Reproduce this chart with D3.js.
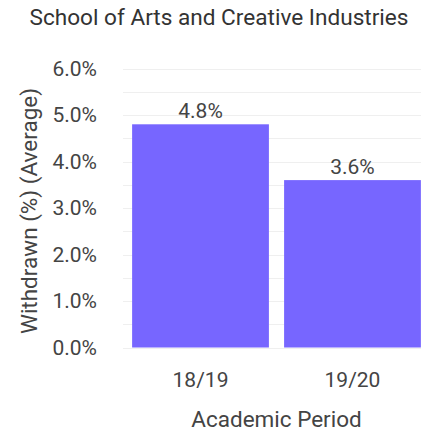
<!DOCTYPE html>
<html>
<head>
<meta charset="utf-8">
<script src="https://cdn.jsdelivr.net/npm/d3@7"></script>
<style>
  html, body { margin: 0; padding: 0; background: #fff; }
  svg { display: block; font-family: Roboto, "Noto Sans", sans-serif; }
</style>
</head>
<body>
<svg id="chart" width="421" height="437"></svg>
<script>
// Withdrawal rate by academic period
const periods = ["18/19", "19/20"];
const withdrawn = [4.8, 3.6];
const yTicks = [0, 1, 2, 3, 4, 5, 6];
const gridTicks = [0, 0.5, 1, 1.5, 2, 2.5, 3, 3.5, 4, 4.5, 5, 5.5, 6];

const svg = d3.select("#chart");
const plot = { left: 123, right: 430, top: 68.5, bottom: 347.5 };

const x = d3.scaleBand()
  .domain(periods)
  .range([plot.left, plot.right])
  .paddingInner(0.1)
  .paddingOuter(0.06);

const y = d3.scaleLinear()
  .domain([0, 6])
  .range([plot.bottom, plot.top]);

const fmt = d => d.toFixed(1) + "%";

// Title
svg.append("text")
  .attr("x", 219)
  .attr("y", 25)
  .attr("text-anchor", "middle")
  .attr("font-size", 22.6)
  .attr("fill", "#333")
  .text("School of Arts and Creative Industries");

// Gridlines
svg.append("g")
  .selectAll("line")
  .data(gridTicks)
  .join("line")
  .attr("x1", plot.left)
  .attr("x2", 421)
  .attr("y1", d => Math.round(y(d)) + 0.5)
  .attr("y2", d => Math.round(y(d)) + 0.5)
  .attr("stroke", "#efefef")
  .attr("stroke-width", 1);

// Y axis
const yAxis = svg.append("g")
  .attr("transform", `translate(${plot.left},0)`)
  .call(d3.axisLeft(y).tickValues(yTicks).tickFormat(fmt).tickSize(0).tickPadding(26));
yAxis.select(".domain").remove();
yAxis.selectAll("text")
  .attr("font-size", 21)
  .attr("font-family", "Roboto, sans-serif")
  .attr("fill", "#444");

// Bars
svg.append("g")
  .selectAll("rect")
  .data(periods)
  .join("rect")
  .attr("x", d => x(d))
  .attr("width", x.bandwidth())
  .attr("y", (d, i) => y(withdrawn[i]))
  .attr("height", (d, i) => y(0) - y(withdrawn[i]))
  .attr("fill", "#7766ff");

// Value labels
svg.append("g")
  .selectAll("text")
  .data(periods)
  .join("text")
  .attr("x", d => x(d) + x.bandwidth() / 2)
  .attr("y", (d, i) => y(withdrawn[i]) - 6.5)
  .attr("text-anchor", "middle")
  .attr("font-size", 21)
  .attr("fill", "#444")
  .text((d, i) => fmt(withdrawn[i]));

// X axis
const xAxis = svg.append("g")
  .attr("transform", `translate(0,${plot.bottom})`)
  .call(d3.axisBottom(x).tickSize(0).tickPadding(25));
xAxis.select(".domain").remove();
xAxis.selectAll("text")
  .attr("font-size", 21)
  .attr("font-family", "Roboto, sans-serif")
  .attr("fill", "#444");

// Axis titles
svg.append("text")
  .attr("x", (plot.left + plot.right) / 2)
  .attr("y", 427)
  .attr("text-anchor", "middle")
  .attr("font-size", 22.5)
  .attr("fill", "#444")
  .text("Academic Period");

svg.append("text")
  .attr("transform", `translate(37,211) rotate(-90)`)
  .attr("text-anchor", "middle")
  .attr("font-size", 22.5)
  .attr("fill", "#444")
  .text("Withdrawn (%) (Average)");
</script>
</body>
</html>
